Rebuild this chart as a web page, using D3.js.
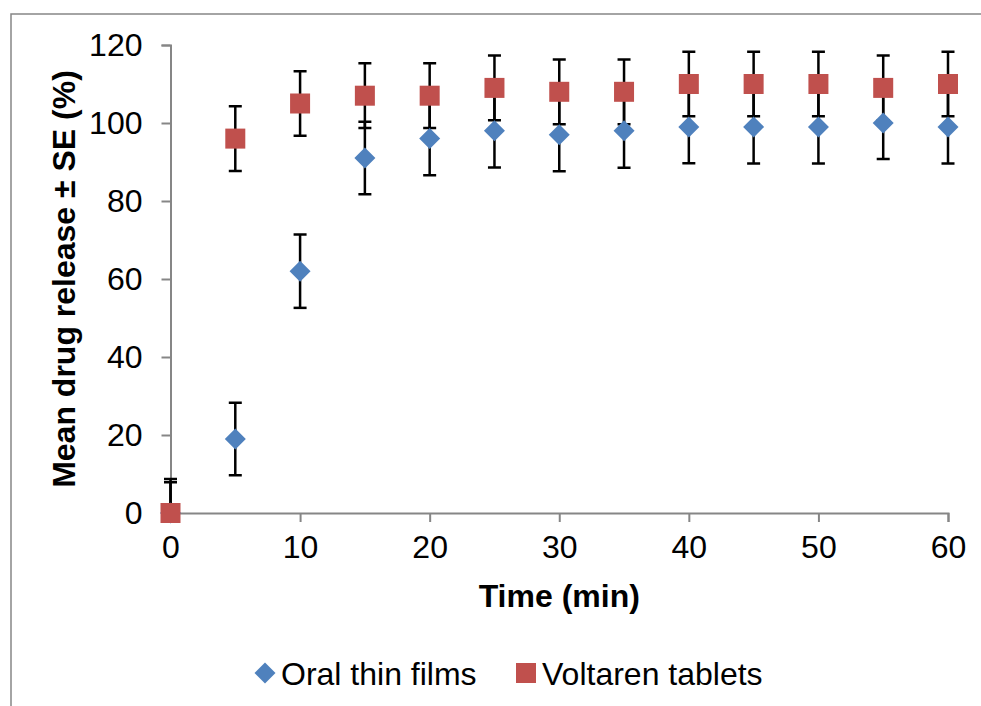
<!DOCTYPE html>
<html lang="en">

<head>
    <meta charset="UTF-8">
    <script src="https://cdnjs.cloudflare.com/ajax/libs/d3/7.9.0/d3.min.js"></script>
    <title>Drug release</title>
    <style>
        body {
            margin: 0;
            background-color: white;
            font-family: "Liberation Sans", Arial, sans-serif;
        }

        svg {
            display: block;
        }

        .axis path,
        .axis line {
            stroke: #868686;
            stroke-width: 2;
        }

        .axis text {
            font-size: 32px;
            fill: black;
            font-family: "Liberation Sans", Arial, sans-serif;
        }
    </style>
</head>

<body>
    <div id="content"></div>
    <script>
        const width = 981;
        const height = 706;
        const margin = { top: 45, right: 33, bottom: 193, left: 170.5 };

        // data
        const times = [0, 5, 10, 15, 20, 25, 30, 35, 40, 45, 50, 55, 60];
        const filmMean = [0, 19, 62, 91, 96, 98, 97, 98, 99, 99, 99, 100, 99];
        const filmSE = [8.7, 9.3, 9.4, 9.3, 9.4, 9.4, 9.4, 9.5, 9.3, 9.4, 9.4, 9.2, 9.4];
        const tabletMean = [0, 96, 105, 107, 107, 109, 108, 108, 110, 110, 110, 109, 110];
        const tabletSE = [7.9, 8.3, 8.3, 8.3, 8.3, 8.3, 8.3, 8.3, 8.3, 8.3, 8.3, 8.3, 8.3];
        const xTicks = [0, 10, 20, 30, 40, 50, 60];
        const yTicks = [0, 20, 40, 60, 80, 100, 120];

        const series = [
            { name: "Oral thin films", mean: filmMean, se: filmSE, color: "#4F81BD", shape: "diamond" },
            { name: "Voltaren tablets", mean: tabletMean, se: tabletSE, color: "#C0504D", shape: "square" }
        ];

        const svg = d3.select("#content").append("svg")
            .attr("width", width)
            .attr("height", height);

        // outer chart border (runs off the right and bottom edges)
        svg.append("rect")
            .attr("x", 11)
            .attr("y", 14)
            .attr("width", 1000)
            .attr("height", 800)
            .attr("fill", "none")
            .attr("stroke", "#868686")
            .attr("stroke-width", 1.5);

        const x = d3.scaleLinear()
            .domain([0, 60])
            .range([margin.left, width - margin.right]);

        const y = d3.scaleLinear()
            .domain([0, 120])
            .range([height - margin.bottom, margin.top]);

        // x axis
        svg.append("g")
            .attr("class", "axis")
            .attr("transform", `translate(0, ${y(0)})`)
            .call(d3.axisBottom(x).tickValues(xTicks).tickSize(9).tickSizeOuter(9).tickPadding(13));

        // y axis
        svg.append("g")
            .attr("class", "axis")
            .attr("transform", `translate(${x(0)}, 0)`)
            .call(d3.axisLeft(y).tickValues(yTicks).tickSize(9).tickSizeOuter(9).tickPadding(19));

        // axis titles
        svg.append("text")
            .attr("x", (x(0) + x(60)) / 2)
            .attr("y", 607)
            .attr("text-anchor", "middle")
            .style("font-size", "32px")
            .style("font-weight", "bold")
            .text("Time (min)");

        svg.append("text")
            .attr("transform", `translate(75, ${(y(0) + y(120)) / 2}) rotate(-90)`)
            .attr("text-anchor", "middle")
            .style("font-size", "32px")
            .style("font-weight", "bold")
            .text("Mean drug release ± SE (%)");

        // clip error bars to the plot area
        svg.append("clipPath")
            .attr("id", "plot-clip")
            .append("rect")
            .attr("x", x(0) - 20)
            .attr("y", y(120) - 20)
            .attr("width", x(60) - x(0) + 40)
            .attr("height", y(0) - y(120) + 20);

        const markerSize = 20;
        const capHalf = 6.5;

        series.forEach(s => {
            const g = svg.append("g").attr("clip-path", "url(#plot-clip)");
            const pts = times.map((t, i) => ({ t: t, m: s.mean[i], e: s.se[i] }));

            const bars = g.selectAll("g.err")
                .data(pts)
                .enter()
                .append("g")
                .attr("class", "err")
                .attr("stroke", "black")
                .attr("stroke-width", 2.5);

            bars.append("line")
                .attr("x1", d => x(d.t))
                .attr("x2", d => x(d.t))
                .attr("y1", d => y(d.m + d.e))
                .attr("y2", d => y(d.m - d.e));
            bars.append("line")
                .attr("x1", d => x(d.t) - capHalf)
                .attr("x2", d => x(d.t) + capHalf)
                .attr("y1", d => y(d.m + d.e))
                .attr("y2", d => y(d.m + d.e));
            bars.append("line")
                .attr("x1", d => x(d.t) - capHalf)
                .attr("x2", d => x(d.t) + capHalf)
                .attr("y1", d => y(d.m - d.e))
                .attr("y2", d => y(d.m - d.e));
        });

        // markers drawn on top of all error bars
        const drawMarker = (sel, shape, color, cx, cy) => {
            if (shape === "square") {
                sel.append("rect")
                    .attr("x", cx - markerSize / 2)
                    .attr("y", cy - markerSize / 2)
                    .attr("width", markerSize)
                    .attr("height", markerSize)
                    .attr("fill", color);
            } else {
                const h = markerSize / 2 + 0.5;
                sel.append("path")
                    .attr("d", `M${cx},${cy - h}L${cx + h},${cy}L${cx},${cy + h}L${cx - h},${cy}Z`)
                    .attr("fill", color);
            }
        };

        series.forEach(s => {
            const g = svg.append("g");
            times.forEach((t, i) => drawMarker(g, s.shape, s.color, x(t), y(s.mean[i])));
        });

        // legend
        const legend = svg.append("g");
        const legendItems = [
            { s: series[0], mx: 265, tx: 281 },
            { s: series[1], mx: 526, tx: 542 }
        ];
        legendItems.forEach(item => {
            drawMarker(legend, item.s.shape, item.s.color, item.mx, 673);
            legend.append("text")
                .attr("x", item.tx)
                .attr("y", 685)
                .style("font-size", "32px")
                .text(item.s.name);
        });
    </script>

</body>

</html>
